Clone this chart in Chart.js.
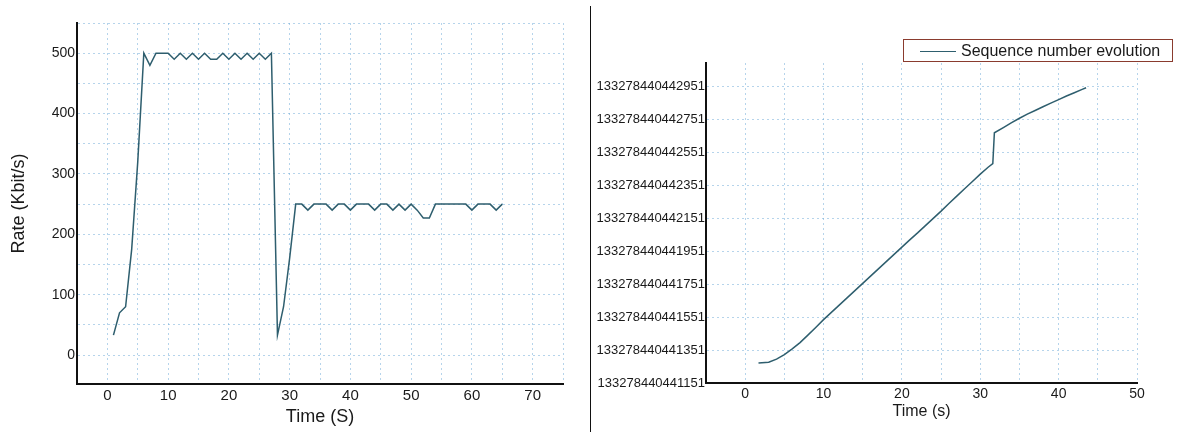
<!DOCTYPE html>
<html>
<head>
<meta charset="utf-8">
<script src="https://cdn.jsdelivr.net/npm/chart.js@4.4.1/dist/chart.umd.min.js"></script>
<style>
    html, body { margin: 0; padding: 0; background: #fff; width: 1177px; height: 432px; overflow: hidden; }
    body { font-family: "Liberation Sans", Arial, sans-serif; }
    #rateChart { position: absolute; left: 0; top: 0; }
    #seqChart { position: absolute; left: 591px; top: 0; }
    #separator { position: absolute; left: 590px; top: 6px; width: 1px; height: 426px; background: #111; }
    #seqLegend {
        position: absolute; left: 903px; top: 39px; width: 268px; height: 21px;
        border: 1px solid #8a3b2e; font-size: 16px; color: #1a1a1a; line-height: 21px; white-space: nowrap;
    }
    #seqLegend span.swatch { position: absolute; left: 16px; top: 11px; width: 36px; border-top: 1.5px solid #2e5e6e; }
    #seqLegend span.text { position: absolute; left: 57px; top: 0; }
</style>
</head>
<body>
<canvas id="rateChart" width="580" height="432"></canvas>
<div id="separator"></div>
<canvas id="seqChart" width="586" height="432"></canvas>
<div id="seqLegend"><span class="swatch"></span><span class="text">Sequence number evolution</span></div>

<script>
// Left chart: rate over time
const rateTime = [1, 2, 3, 4, 5, 6, 7, 8, 9, 10, 11, 12, 13, 14, 15, 16, 17, 18, 19, 20,
    21, 22, 23, 24, 25, 26, 27, 28, 29, 30, 31, 32, 33, 34, 35, 36, 37, 38, 39, 40,
    41, 42, 43, 44, 45, 46, 47, 48, 49, 50, 51, 52, 53, 54, 55, 56, 57, 58, 59, 60,
    61, 62, 63, 64, 65];
const rateValues = [33, 70, 80, 175, 320, 500, 480, 500, 500, 500, 490, 500, 490, 500, 490, 500, 490, 490, 500, 490,
    500, 490, 500, 490, 500, 490, 500, 33, 80, 160, 250, 250, 240, 250, 250, 250, 240, 250, 250, 240,
    250, 250, 250, 240, 250, 250, 240, 250, 240, 250, 240, 227, 227, 250, 250, 250, 250, 250, 250, 240,
    250, 250, 250, 240, 250];
const rateYTicks = [0, 50, 100, 150, 200, 250, 300, 350, 400, 450, 500, 550];
const rateXTicks = [-5, 0, 5, 10, 15, 20, 25, 30, 35, 40, 45, 50, 55, 60, 65, 70, 75];

// Right chart: sequence number over time (values as offsets from seqBase)
const seqBase = 133278440441151;
const seqTime = [1.7, 3, 4, 5, 6, 7, 8, 9, 10, 11, 12, 13, 14, 15, 16, 17, 18, 19, 20,
    21, 22, 23, 24, 25, 26, 27, 28, 29, 30, 31, 31.6, 31.8, 33, 34, 35, 36, 37, 38, 39,
    40, 41, 42, 43, 43.5];
const seqOffset = [121, 126, 145, 172, 207, 245, 290, 337, 384, 428, 472, 516, 560, 604, 648, 692, 736, 780, 824,
    868, 910, 954, 998, 1042, 1088, 1133, 1178, 1222, 1266, 1308, 1330, 1517, 1550, 1578, 1605, 1630, 1652, 1675, 1697,
    1718, 1740, 1760, 1780, 1790];
const seqYTicks = [0, 100, 200, 300, 400, 500, 600, 700, 800, 900, 1000, 1100, 1200, 1300, 1400, 1500, 1600, 1700, 1800, 1900];
const seqXTicks = [-5, 0, 5, 10, 15, 20, 25, 30, 35, 40, 45, 50];

const fontFamily = '"Liberation Sans", Arial, sans-serif';
const lineColor = '#2e5e6e';
const gridColor = 'rgba(110, 170, 215, 0.5)';
const textColor = '#1a1a1a';

function toPoints(xs, ys) {
    return xs.map(function(x, i) { return { x: x, y: ys[i] }; });
}

function setTicks(list) {
    return function(scale) {
        scale.ticks = list.map(function(v) { return { value: v }; });
    };
}

// Left chart
new Chart(document.getElementById('rateChart').getContext('2d'), {
    type: 'line',
    data: {
        datasets: [{
            label: 'Rate',
            data: toPoints(rateTime, rateValues),
            borderColor: lineColor,
            borderWidth: 1.5,
            pointRadius: 0,
            tension: 0,
            fill: false
        }]
    },
    options: {
        responsive: false,
        animation: false,
        layout: { padding: { top: 23, right: 17, left: 0, bottom: 0 } },
        plugins: { legend: { display: false }, tooltip: { enabled: false } },
        scales: {
            x: {
                type: 'linear',
                min: -5,
                max: 75,
                afterBuildTicks: setTicks(rateXTicks),
                afterFit: function(scale) { scale.height = 48; },
                grid: { color: gridColor, drawTicks: false, lineWidth: 1 },
                border: { display: true, color: '#111', width: 2, dash: [2, 3] },
                ticks: {
                    padding: 3,
                    color: textColor,
                    font: { family: fontFamily, size: 15 },
                    maxRotation: 0,
                    callback: function(v) { return v % 10 === 0 ? String(v) : ''; }
                },
                title: {
                    display: true,
                    text: 'Time (S)',
                    color: textColor,
                    font: { family: fontFamily, size: 18 },
                    padding: { top: 0, bottom: 4 }
                }
            },
            y: {
                type: 'linear',
                min: -48,
                max: 550,
                afterBuildTicks: setTicks(rateYTicks),
                afterFit: function(scale) { scale.width = 77; },
                grid: { color: gridColor, drawTicks: false, lineWidth: 1 },
                border: { display: true, color: '#111', width: 2, dash: [2, 3] },
                ticks: {
                    padding: 2,
                    color: textColor,
                    font: { family: fontFamily, size: 14 },
                    callback: function(v) { return v % 100 === 0 ? String(v) : ''; }
                },
                title: {
                    display: true,
                    text: 'Rate (Kbit/s)',
                    color: textColor,
                    font: { family: fontFamily, size: 18 },
                    padding: { top: 8, bottom: 0 }
                }
            }
        }
    }
});

// Right chart
new Chart(document.getElementById('seqChart').getContext('2d'), {
    type: 'line',
    data: {
        datasets: [{
            label: 'Sequence number evolution',
            data: toPoints(seqTime, seqOffset),
            borderColor: lineColor,
            borderWidth: 1.5,
            pointRadius: 0,
            tension: 0,
            fill: false
        }]
    },
    options: {
        responsive: false,
        animation: false,
        layout: { padding: { top: 63, right: 40, left: 0, bottom: 0 } },
        plugins: { legend: { display: false }, tooltip: { enabled: false } },
        scales: {
            x: {
                type: 'linear',
                min: -5,
                max: 50,
                afterBuildTicks: setTicks(seqXTicks),
                afterFit: function(scale) { scale.height = 49; },
                grid: { color: gridColor, drawTicks: false, lineWidth: 1 },
                border: { display: true, color: '#111', width: 2, dash: [2, 3] },
                ticks: {
                    padding: 3,
                    color: textColor,
                    font: { family: fontFamily, size: 14 },
                    maxRotation: 0,
                    callback: function(v) { return v % 10 === 0 ? String(v) : ''; }
                },
                title: {
                    display: true,
                    text: 'Time (s)',
                    color: textColor,
                    font: { family: fontFamily, size: 16 },
                    padding: { top: 0, bottom: 11 }
                }
            },
            y: {
                type: 'linear',
                min: 0,
                max: 1940,
                afterBuildTicks: setTicks(seqYTicks),
                afterFit: function(scale) { scale.width = 115; },
                grid: { color: gridColor, drawTicks: false, lineWidth: 1 },
                border: { display: true, color: '#111', width: 2, dash: [2, 3] },
                ticks: {
                    padding: 1,
                    color: textColor,
                    font: { family: fontFamily, size: 13 },
                    callback: function(v) { return v % 200 === 0 ? String(seqBase + v) : ''; }
                }
            }
        }
    }
});
</script>
</body>
</html>
